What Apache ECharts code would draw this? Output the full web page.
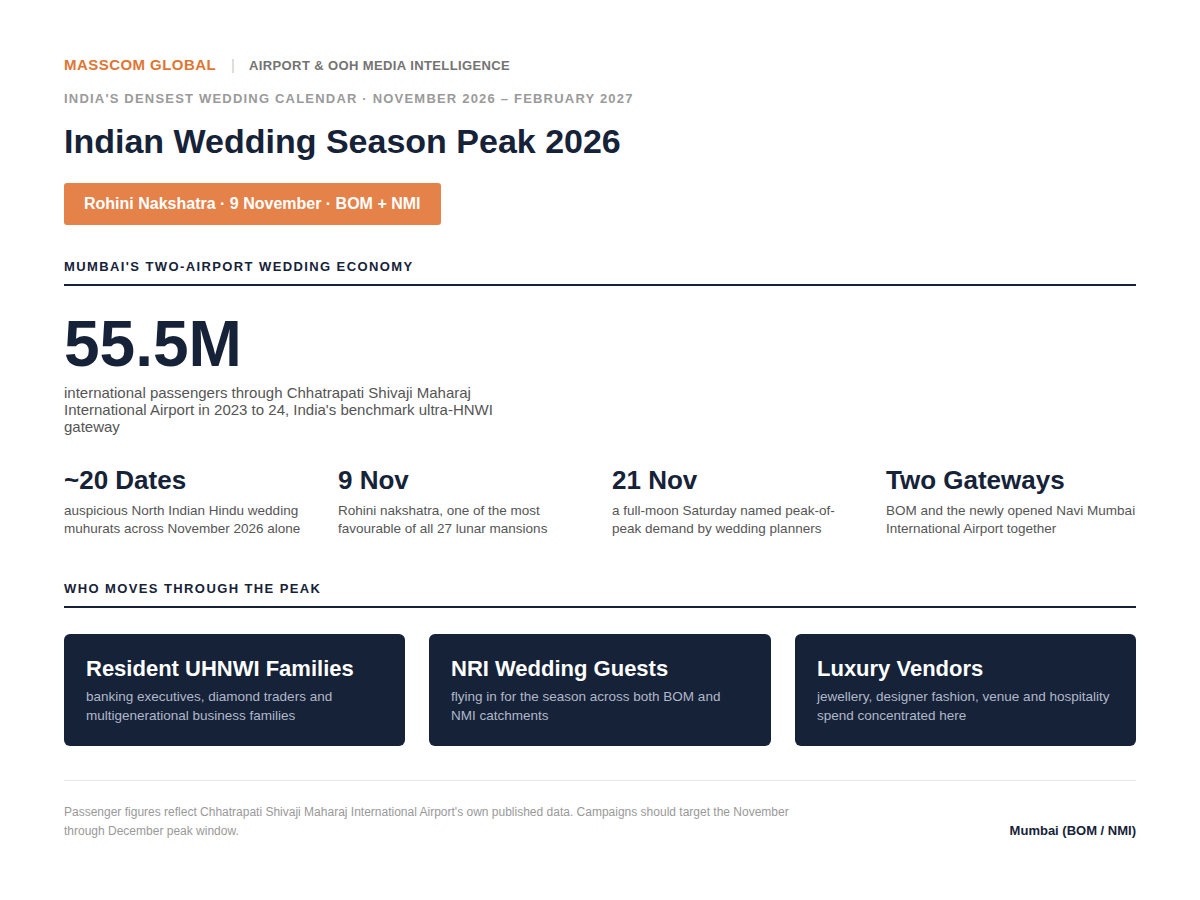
<!DOCTYPE html>
<html lang="en">
<head>
  <meta charset="UTF-8">
  <title>Indian Wedding Season Peak 2026</title>
  <style>
    html, body { margin: 0; padding: 0; background: #fff; }
  </style>
</head>
<body>
  <div id="main" style="width: 1200px;height:900px;"></div>
  <script src="https://cdn.jsdelivr.net/npm/echarts@6/dist/echarts.min.js"></script>
  <script type="text/javascript">
    const brand = 'MASSCOM GLOBAL';
    const brandSub = 'AIRPORT & OOH MEDIA INTELLIGENCE';
    const eyebrow = "INDIA'S DENSEST WEDDING CALENDAR · NOVEMBER 2026 – FEBRUARY 2027";
    const title = 'Indian Wedding Season Peak 2026';
    const badge = 'Rohini Nakshatra · 9 November · BOM + NMI';
    const sectionTitles = ["MUMBAI'S TWO-AIRPORT WEDDING ECONOMY", 'WHO MOVES THROUGH THE PEAK'];
    const heroValue = '55.5M';
    const heroLines = [
      'international passengers through Chhatrapati Shivaji Maharaj',
      "International Airport in 2023 to 24, India's benchmark ultra-HNWI",
      'gateway'
    ];
    const statValues = ['~20 Dates', '9 Nov', '21 Nov', 'Two Gateways'];
    const statLines = [
      ['auspicious North Indian Hindu wedding', 'muhurats across November 2026 alone'],
      ['Rohini nakshatra, one of the most', 'favourable of all 27 lunar mansions'],
      ['a full-moon Saturday named peak-of-', 'peak demand by wedding planners'],
      ['BOM and the newly opened Navi Mumbai', 'International Airport together']
    ];
    const cardTitles = ['Resident UHNWI Families', 'NRI Wedding Guests', 'Luxury Vendors'];
    const cardLines = [
      ['banking executives, diamond traders and', 'multigenerational business families'],
      ['flying in for the season across both BOM and', 'NMI catchments'],
      ['jewellery, designer fashion, venue and hospitality', 'spend concentrated here']
    ];
    const footLines = [
      "Passenger figures reflect Chhatrapati Shivaji Maharaj International Airport's own published data. Campaigns should target the November",
      'through December peak window.'
    ];
    const footRight = 'Mumbai (BOM / NMI)';

    const NAVY = '#162238';
    const ORANGE = '#E5824A';
    const FONT = '"Liberation Sans", Arial, sans-serif';

    // zrender has no letter spacing, so it goes on the svg text nodes after the render
    const spacing = {};
    spacing[brand] = 0.45;
    spacing[brandSub] = 0.39;
    spacing[eyebrow] = 1.2;
    spacing[sectionTitles[0]] = 1.4;
    spacing[sectionTitles[1]] = 1.4;

    // y is the text baseline
    function txt(x, y, text, size, color, weight, align) {
      return {
        type: 'text',
        x: x,
        y: Math.round(y + size * 0.145),
        style: {
          text: text,
          fill: color,
          font: (weight || 'normal') + ' ' + size + 'px ' + FONT,
          textAlign: align || 'left',
          textVerticalAlign: 'bottom'
        },
        silent: true
      };
    }

    function box(x, y, w, h, fill, r) {
      return { type: 'rect', shape: { x: x, y: y, width: w, height: h, r: r || 0 }, style: { fill: fill }, silent: true };
    }

    const els = [];
    els.push(txt(64, 70, brand, 15, '#DF7633', 'bold'));
    els.push(txt(231, 70, '|', 15, '#cccccc'));
    els.push(txt(249, 70, brandSub, 13, '#737373', 'bold'));
    els.push(txt(64, 103, eyebrow, 13, '#9a9a9a', 'bold'));
    els.push(txt(64, 153, title, 34, NAVY, 'bold'));

    els.push(box(64, 183, 377, 42, ORANGE, 3));
    els.push(txt(84, 209, badge, 16, '#ffffff', 'bold'));

    els.push(txt(64, 271, sectionTitles[0], 13, NAVY, 'bold'));
    els.push(box(64, 284, 1072, 2, NAVY));

    els.push(txt(64, 367, heroValue, 64, NAVY, 'bold'));
    heroLines.forEach((l, i) => els.push(txt(64, 398 + i * 17, l, 15, '#555555')));

    const statX = [64, 338, 612, 886];
    statValues.forEach((v, i) => {
      els.push(txt(statX[i], 489, v, 26, NAVY, 'bold'));
      statLines[i].forEach((l, j) => els.push(txt(statX[i], 515 + j * 18, l, 13.5, '#555555')));
    });

    els.push(txt(64, 593, sectionTitles[1], 13, NAVY, 'bold'));
    els.push(box(64, 606, 1072, 2, NAVY));

    const cardX = [64, 429, 795];
    const cardW = [341, 342, 341];
    cardTitles.forEach((t, i) => {
      els.push(box(cardX[i], 634, cardW[i], 112, NAVY, 6));
      els.push(txt(cardX[i] + 22, 676, t, 22, '#ffffff', 'bold'));
      cardLines[i].forEach((l, j) => els.push(txt(cardX[i] + 22, 701 + j * 19, l, 13.5, '#B0B8C8')));
    });

    els.push(box(64, 780, 1072, 1, '#e8e8e8'));
    footLines.forEach((l, i) => els.push(txt(64, 816 + i * 19, l, 12, '#999999')));
    els.push(txt(1136, 835, footRight, 13, NAVY, 'bold', 'right'));

    var myChart = echarts.init(document.getElementById('main'), null, { renderer: 'svg' });

    function applySpacing() {
      document.querySelectorAll('#main svg text').forEach(t => {
        const s = spacing[t.textContent];
        if (s) t.style.letterSpacing = s + 'px';
      });
    }
    myChart.on('finished', applySpacing);

    myChart.setOption({
      backgroundColor: '#ffffff',
      animation: false,
      graphic: { elements: els }
    });
    applySpacing();
  </script>
</body>
</html>
